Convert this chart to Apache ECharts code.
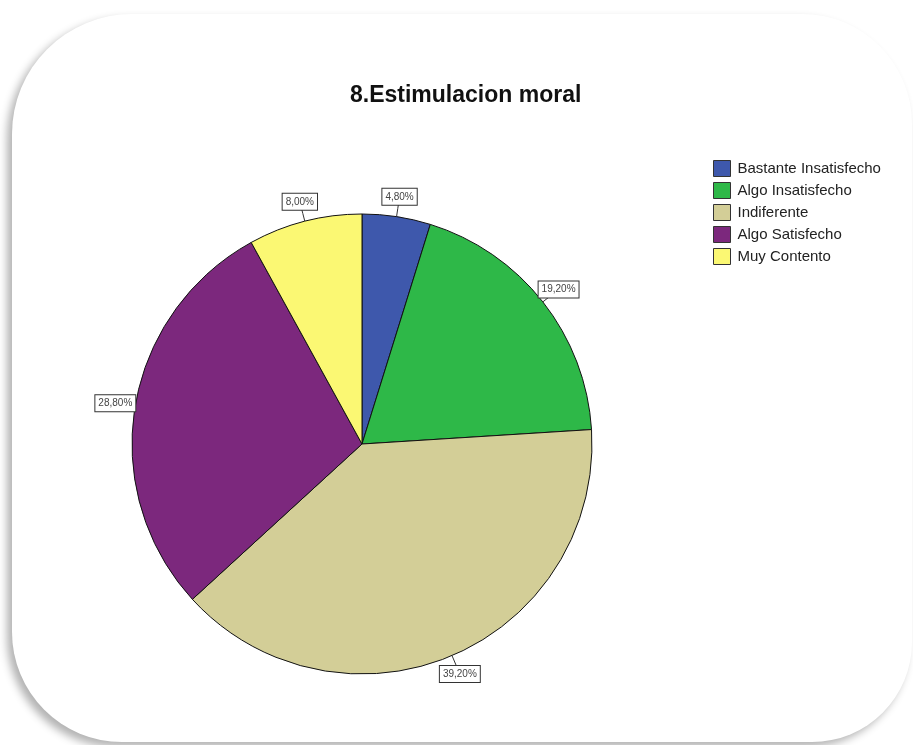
<!DOCTYPE html>
<html>
<head>
<meta charset="utf-8">
<script src="https://cdn.jsdelivr.net/npm/echarts@6/dist/echarts.min.js"></script>
<style>
  html, body { margin: 0; padding: 0; background: #fff; width: 913px; height: 745px; overflow: hidden; }
  #frame {
    position: absolute; left: 12px; top: 14px; width: 900px; height: 728px;
    background: #fff;
    border-radius: 120px 110px 100px 110px;
    box-shadow: -5px 5px 8px rgba(0,0,0,0.3);
  }
  #chart { position: absolute; left: 0; top: 0; width: 913px; height: 745px; }
</style>
</head>
<body>
<div id="frame"></div>
<div id="chart"></div>
<script>
const categories = ['Bastante Insatisfecho', 'Algo Insatisfecho', 'Indiferente', 'Algo Satisfecho', 'Muy Contento'];
const percentages = [4.8, 19.2, 39.2, 28.8, 8.0];
const colors = ['#3E58AC', '#2EB848', '#D3CE97', '#7C287D', '#FBF873'];
const titleText = '8.Estimulacion moral';

const CX = 362, CY = 444, RADIUS = 230, LABEL_R = 250;

const chart = echarts.init(document.getElementById('chart'), null, { renderer: 'canvas' });
const data = categories.map((c, i) => ({ name: c, value: percentages[i], itemStyle: { color: colors[i] } }));

chart.setOption({
  backgroundColor: 'transparent',
  animation: false,
  title: {
    text: titleText,
    left: 350, top: 84, padding: 0,
    textStyle: { fontFamily: 'Liberation Sans, Arial, sans-serif', fontSize: 23, fontWeight: 'bold', color: '#111' }
  },
  legend: {
    orient: 'vertical',
    left: 713, top: 160,
    itemWidth: 17, itemHeight: 16, itemGap: 5,
    icon: 'rect',
    padding: 0,
    itemStyle: { borderColor: '#333', borderWidth: 1 },
    textStyle: { fontFamily: 'Liberation Sans, Arial, sans-serif', fontSize: 15, color: '#222', padding: [0, 0, 0, 2] },
    data: categories
  },
  series: [{
    type: 'pie',
    center: [CX, CY],
    radius: [0, RADIUS],
    startAngle: 90,
    clockwise: true,
    silent: true,
    data: data,
    itemStyle: { borderColor: '#111', borderWidth: 1 },
    label: {
      show: true,
      position: 'outside',
      formatter: p => p.value.toFixed(2).replace('.', ',') + '%',
      fontFamily: 'Liberation Sans, Arial, sans-serif',
      fontSize: 10,
      color: '#444',
      backgroundColor: '#fff',
      borderColor: '#333',
      borderWidth: 1,
      padding: [3, 3, 3, 3]
    },
    labelLine: {
      show: true, length: 8, length2: 3,
      lineStyle: { color: '#333', width: 1 }
    },
    labelLayout: function (params) {
      const p0 = params.labelLinePoints ? params.labelLinePoints[0] : null;
      if (!p0) return {};
      let dx = p0[0] - CX, dy = p0[1] - CY;
      const len = Math.sqrt(dx * dx + dy * dy) || 1;
      dx /= len; dy /= len;
      const lx = CX + dx * LABEL_R, ly = CY + dy * LABEL_R;
      const mid = [CX + dx * (RADIUS + 8), CY + dy * (RADIUS + 8)];
      return {
        x: lx, y: ly,
        align: 'center', verticalAlign: 'middle',
        labelLinePoints: [[CX + dx * RADIUS, CY + dy * RADIUS], mid, [lx, ly]]
      };
    }
  }]
});
</script>
</body>
</html>
